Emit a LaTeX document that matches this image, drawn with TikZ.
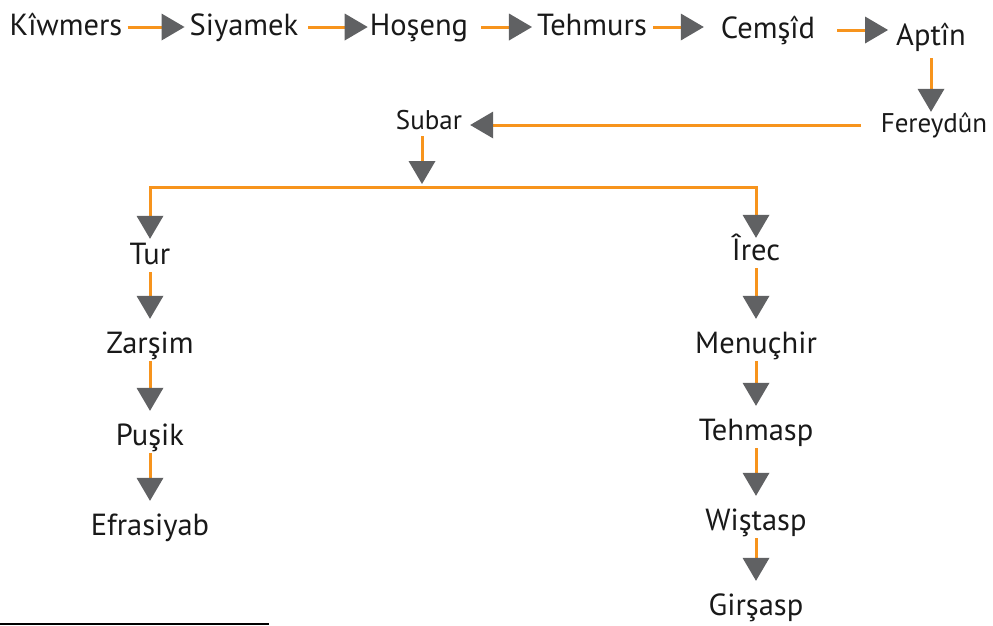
\documentclass[tikz,border=0pt]{standalone}
\usepackage{fontspec}
\setmainfont{PT Sans}
\usetikzlibrary{arrows.meta}
\definecolor{orangeligne}{RGB}{247,148,29}
\definecolor{grispointe}{RGB}{96,97,99}
\tikzset{
  nom/.style={font=\fontsize{30.5}{36}\selectfont, text=black!90, inner sep=0pt,
    text height=22pt, text depth=6pt, anchor=base},
  petitnom/.style={nom, font=\fontsize{27}{32}\selectfont, text height=19pt, text depth=5pt},
  fleche/.style={draw=orangeligne, line width=3pt,
    -{Triangle[length=23pt,width=27pt,color=grispointe,line width=0pt]}}
}
\begin{document}
\begin{tikzpicture}[x=1pt,y=-1pt]
\useasboundingbox (0,0) rectangle (993,625);

% 1. La premiere ligne de noms
\node[nom] (kiwmers) at (66,35) {Kîwmers};
\node[nom] (siyamek) at (244,35) {Siyamek};
\node[nom] (hoseng) at (419,35) {Hoşeng};
\node[nom] (tehmurs) at (592,35) {Tehmurs};
\node[nom] (cemsid) at (768,38) {Cemşîd};
\node[nom] (aptin) at (931,45) {Aptîn};

\foreach \a/\b/\d/\f in {kiwmers/siyamek/5/5,siyamek/hoseng/10/2,hoseng/tehmurs/13/5,
                         tehmurs/cemsid/6/17,cemsid/aptin/22/8} {
    \draw[fleche, shorten <=\d pt, shorten >=\f pt] (\a.east) -- (\a.east -| \b.west);
}

% 2. Fereydun et Subar
\node[petitnom] (fereydun) at (934,132) {Fereydûn};
\node[petitnom] (subar) at (429,129) {Subar};
\draw[fleche, shorten <=7pt, shorten >=1pt] (aptin.south) -- (aptin.south |- fereydun.north);
\draw[fleche, shorten <=20pt, shorten >=8pt] (fereydun.west) -- (fereydun.west -| subar.east);

% 3. Les deux branches
\node[nom] (tur) at (150,264) {Tur};
\node[nom] (irec) at (756,260) {Îrec};
\coordinate (fourche) at (422,187);
\draw[fleche, shorten >=3pt] (fourche) -| (tur.north);
\draw[fleche] (fourche) -| (irec.north);
\draw[fleche, shorten <=2pt, shorten >=3pt] (subar.south -| fourche) -- (fourche);

% 4. Les descendants, a gauche et a droite
\node[nom] (zarsim) at (150,353) {Zarşim};
\node[nom] (pusik) at (150,445) {Puşik};
\node[nom] (efrasiyab) at (150,535) {Efrasiyab};
\node[nom] (menucehr) at (756,353) {Menuçhir};
\node[nom] (tehmasp) at (756,440) {Tehmasp};
\node[nom] (wistasp) at (756,530) {Wiştasp};
\node[nom] (girsasp) at (756,615) {Girşasp};

\foreach \a/\b in {tur/zarsim,zarsim/pusik,pusik/efrasiyab,irec/menucehr,menucehr/tehmasp,tehmasp/wistasp,wistasp/girsasp} {
    \draw[fleche, shorten <=2pt, shorten >=12pt] (\a.south) -- (\a.south |- \b.north);
}

% 5. Trait de note en bas
\draw[line width=2pt] (0,624) -- (269,624);
\end{tikzpicture}
\end{document}
